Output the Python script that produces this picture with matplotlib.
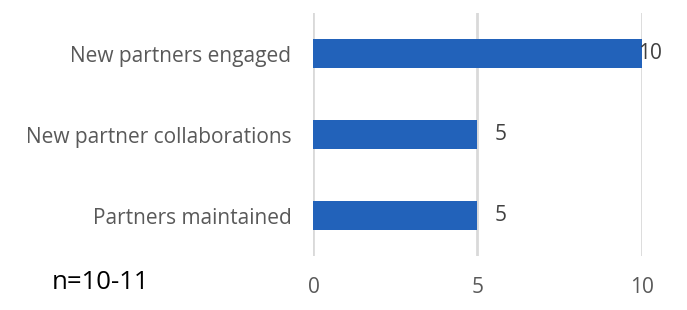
import matplotlib
matplotlib.use('Agg')
import matplotlib.pyplot as plt
import numpy as np

categories = ['New partners engaged', 'New partner collaborations', 'Partners maintained']
values = [10, 5, 5]
note = 'n=10-11'

plt.rcParams['font.family'] = ['Open Sans', 'DejaVu Sans']

fig = plt.figure(figsize=(6.87, 3.10), dpi=100)
ax = fig.add_axes([0.4563, 0.1742, 0.4775, 0.7838])

y = np.arange(len(categories))
ax.barh(y, values, height=0.36, color='#2262BA', zorder=3)
ax.set_ylim(len(categories) - 0.5, -0.5)
ax.set_xlim(0, 10)
ax.set_xticks([0, 5, 10])
ax.set_yticks(y)
ax.set_yticklabels(categories, fontsize=15, color='#595959')
ax.tick_params(axis='x', labelsize=15, labelcolor='#595959', length=0, pad=15)
ax.tick_params(axis='y', length=0, pad=16)
ax.grid(axis='x', color='#D9D9D9', linewidth=2, zorder=0)
for s in ax.spines.values():
    s.set_visible(False)

for yi, v in zip(y, values):
    off = 6 if v == max(values) else 17
    ax.annotate(str(v), xy=(v, yi), xytext=(off, 0), textcoords='offset points',
                ha='center', va='center', fontsize=15, color='#404040',
                annotation_clip=False, zorder=4)

fig.text(0.0757, 0.09, note, fontsize=18.5, color='black', va='center', ha='left')

fig.savefig('out.png', dpi=100)
